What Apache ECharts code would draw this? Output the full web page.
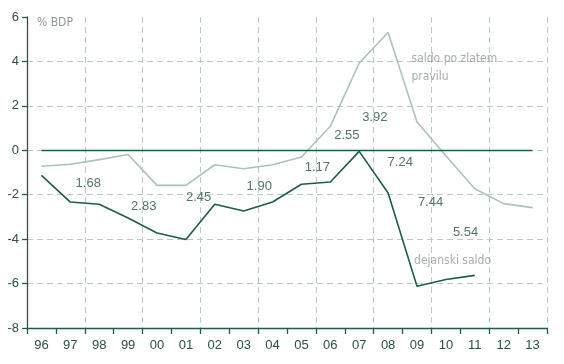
<!DOCTYPE html>
<html>
<head>
<meta charset="utf-8">
<style>html,body{margin:0;padding:0;background:#fff;}#c{width:564px;height:364px;}</style>
<script src="https://cdn.jsdelivr.net/npm/echarts@6/dist/echarts.min.js"></script>
</head>
<body>
<div id="c"></div>
<script>
const categories = ['96','97','98','99','00','01','02','03','04','05','06','07','08','09','10','11','12','13'];
const goldenRule = [-0.72,-0.63,-0.42,-0.19,-1.58,-1.58,-0.65,-0.83,-0.65,-0.30,1.08,3.93,5.30,1.27,-0.25,-1.73,-2.40,-2.58];
const actual = [-1.13,-2.33,-2.43,-3.05,-3.72,-4.02,-2.43,-2.73,-2.33,-1.53,-1.43,-0.05,-1.92,-6.12,-5.82,-5.63,null,null];
const yTicks = [-8,-6,-4,-2,0,2,4,6];
// numeric annotations (text, x in category units, y in % BDP)
const annotText = ['1.68','2.83','2.45','1.90','1.17','2.55','3.92','7.24','7.44','5.54'];
const annotX = [2.12,4.04,5.94,8.04,10.05,11.07,12.04,12.92,13.97,15.18];
const annotY = [-1.50,-2.51,-2.10,-1.62,-0.75,0.68,1.50,-0.55,-2.35,-3.71];
const seriesNames = ['saldo po zlatem\npravilu','dejanski saldo'];
const seriesNameX = [13.31,13.40];
const seriesNameY = [3.69,-5.0];
const unitLabel = '% BDP';

const DARK = '#1d5b4a';
const LIGHT = '#a8c3ba';
const GRID = '#b9cbc5';
const TXT = '#2c4f47';
const NARROW = "'Liberation Sans Narrow','Arial Narrow','DejaVu Sans Condensed',sans-serif";

const chart = echarts.init(document.getElementById('c'), null, {renderer:'canvas'});
chart.setOption({
  animation:false,
  backgroundColor:'#fff',
  grid:{left:27,right:17,top:17,bottom:36,containLabel:false},
  xAxis:[{
    type:'category', data:categories, boundaryGap:true,
    axisLine:{onZero:false,lineStyle:{color:DARK,width:1.3}},
    axisTick:{show:true,interval:0,length:6,lineStyle:{color:DARK,width:1.3}},
    axisLabel:{interval:0,margin:11,color:TXT,fontSize:13,fontFamily:'Liberation Sans, Arial, sans-serif'},
    splitLine:{show:true,interval:function(i){return i>0 && i%2===0 && i<categories.length;},lineStyle:{color:GRID,type:[6,4],width:1}}
  },{
    type:'value', min:0, max:categories.length, show:false
  }],
  yAxis:{
    type:'value', min:yTicks[0], max:yTicks[yTicks.length-1], interval:2,
    axisLine:{show:true,onZero:false,lineStyle:{color:DARK,width:1.3}},
    axisTick:{show:true,length:5,lineStyle:{color:DARK,width:1.3}},
    axisLabel:{margin:8,color:TXT,fontSize:13,fontFamily:'Liberation Sans, Arial, sans-serif'},
    splitLine:{show:true,lineStyle:{color:[GRID,GRID,GRID,GRID,GRID,GRID,GRID,'rgba(0,0,0,0)'],type:[6,4],width:1}}
  },
  series:[
    {type:'line', data:goldenRule, symbol:'none', lineStyle:{color:LIGHT,width:1.6}, z:3},
    {type:'line', data:actual, symbol:'none', lineStyle:{color:DARK,width:1.6}, z:4,
      markLine:{silent:true,symbol:'none',label:{show:false},lineStyle:{color:DARK,width:1.3,type:'solid'},
        data:[[{coord:[categories[0],0]},{coord:[categories[categories.length-1],0]}]]}},
    {type:'scatter', xAxisIndex:1, symbolSize:0, z:5,
      data:annotText.map((t,i)=>({value:[annotX[i],annotY[i]],name:t})),
      label:{show:true,position:'inside',formatter:p=>p.name,color:TXT,fontSize:13,fontFamily:'Liberation Sans, Arial, sans-serif'}},
    {type:'scatter', xAxisIndex:1, symbolSize:0, z:5,
      data:seriesNames.map((t,i)=>({value:[seriesNameX[i],seriesNameY[i]],name:t})),
      label:{show:true,position:'right',distance:0,align:'left',formatter:p=>p.name,color:'#8f9896',fontSize:12,lineHeight:18,fontFamily:NARROW}}
  ],
  graphic:[{type:'text',left:37,top:17,style:{text:unitLabel,fill:'#8f9896',fontSize:12,fontFamily:NARROW}}]
});
</script>
</body>
</html>
